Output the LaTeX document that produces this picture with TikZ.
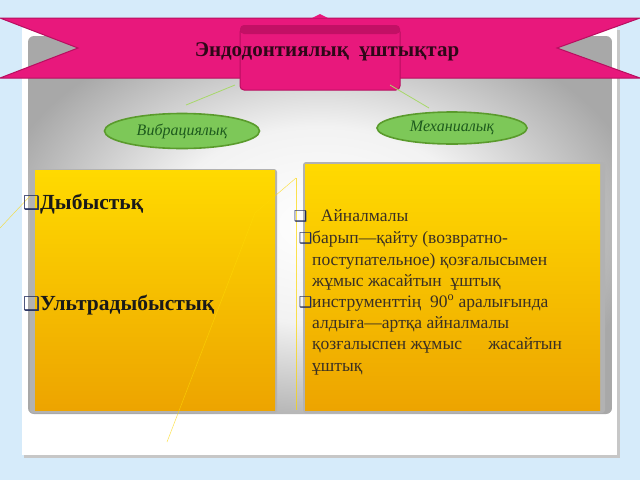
\documentclass[tikz,border=0pt]{standalone}
\usepackage{fontspec}
\setmainfont{Liberation Serif}
\newfontfamily\dejavu{DejaVu Sans}
\usetikzlibrary{shapes.geometric}
\definecolor{bgblue}{HTML}{D6EBFA}
\definecolor{pinkmain}{HTML}{E8187C}
\definecolor{pinkdark}{HTML}{B80E60}
\definecolor{graydk}{HTML}{A8A8A8}
\definecolor{ytop}{HTML}{FFDA00}
\definecolor{ybot}{HTML}{EDA400}
\definecolor{ellfill}{HTML}{7DC858}
\definecolor{elldraw}{HTML}{5A9B2C}
\definecolor{elltext}{HTML}{1D5A1D}
\definecolor{linegreen}{HTML}{A8D86A}
\definecolor{bulcol}{HTML}{1E2A5C}
\definecolor{txtcol}{HTML}{3A3024}
\definecolor{titlecol}{HTML}{2E0818}
\pgfdeclareradialshading{panelshade}{\pgfpoint{0bp}{0bp}}{color(0bp)=(white); color(13bp)=(white!95!black); color(28bp)=(graydk); color(50bp)=(graydk)}
\begin{document}
\begin{tikzpicture}[x=1pt,y=-1pt,
  oval/.style={ellipse, fill=ellfill, draw=elldraw, line width=1.6pt, minimum width=155pt, minimum height=35pt, inner sep=0pt, font=\itshape\fontsize{16}{18}\selectfont, text=elltext},
  conn/.style={draw=linegreen, line width=0.8pt},
  deco/.style={draw=yellow!75!orange, line width=0.5pt, opacity=0.7},
  bigitem/.style={anchor=base west, inner sep=0pt, font=\bfseries\fontsize{21.5}{24}\selectfont, text=black!90},
  smallitem/.style={anchor=north west, inner sep=0pt, align=left, font=\fontsize{17.5}{21.3}\selectfont, text=txtcol}]
\useasboundingbox (0,0) rectangle (640,480);
\fill[bgblue] (0,0) rectangle (640,480);
% white panel with shadow
\fill[black!22] (24,30) rectangle (620,458);
\fill[white] (22,28) rectangle (617,455);
% gray gradient frame
\shade[shading=panelshade, rounded corners=6] (28,36) rectangle (612,414);
% box shadows
\fill[black!30, rounded corners=3] (30,169) rectangle (277,413);
\fill[black!30, rounded corners=3] (303,162) rectangle (605,413);
% yellow boxes
\shade[top color=ytop, bottom color=ybot] (35,170) rectangle (275,410);
\shade[top color=ytop, bottom color=ybot] (305,164) rectangle (600,410);
% faint yellow decorative lines
\coordinate (d1) at (0,228);
\coordinate (d2) at (30,196);
\coordinate (d3) at (167,442);
\coordinate (d4) at (255,213);
\coordinate (d5) at (296,178);
\coordinate (d6) at (296,410);
\draw[deco] (d1) -- (d2);
\draw[deco] (d3) -- (d4) -- (d5);
\draw[deco] (d5) -- (d6);
% ribbon
\fill[pinkmain, draw=pinkdark, line width=1pt] (0,18) -- (640,18) -- (557,48) -- (640,78) -- (0,78) -- (78,48) -- cycle;
\fill[pinkmain] (312,18) -- (320,14) -- (328,18) -- cycle;
% center tab
\fill[pinkmain, draw=pinkdark, line width=1pt, rounded corners=4] (240,28) rectangle (400,90);
\fill[pinkdark!80!pinkmain, rounded corners=4] (240,25) rectangle (400,34);
\node[inner sep=0pt, font=\bfseries\fontsize{21}{24}\selectfont, text=titlecol] (title) at (327,52) {Эндодонтиялық\ \ ұштықтар};
% green connectors
\coordinate (cl1) at (235,85);
\coordinate (cl2) at (186,105);
\coordinate (cr1) at (390,85);
\coordinate (cr2) at (429,108);
\draw[conn] (cl1) -- (cl2);
\draw[conn] (cr1) -- (cr2);
% ellipses
\node[oval] (vib) at (182,131) {Вибрациялық};
\node[oval, minimum width=150pt, minimum height=32pt] (mech) at (452,128) {Механиалық};
% left items
\node[bigitem] (i1) at (40,209) {\llap{\dejavu\bfseries\fontsize{19}{22}\selectfont\color{bulcol}❑}Дыбыстьқ};
\node[bigitem] (i2) at (40,310) {\llap{\dejavu\bfseries\fontsize{19}{22}\selectfont\color{bulcol}❑}Ультрадыбыстық};
% right items
\node[smallitem] (r1) at (312,209) {\llap{\dejavu\fontsize{15}{17}\selectfont\color{bulcol}❑\ }\ \ Айналмалы};
\node[smallitem] (r2) at (312,231) {\llap{\dejavu\fontsize{15}{17}\selectfont\color{bulcol}❑}барып—қайту (возвратно-\\поступательное) қозғалысымен\\жұмыс жасайтын\ \ ұштық};
\node[smallitem] (r3) at (312,295) {\llap{\dejavu\fontsize{15}{17}\selectfont\color{bulcol}❑}инструменттің\ \ 90\textsuperscript{o} аралығында\\алдыға—артқа айналмалы\\қозғалыспен жұмыс\ \ \ \ \ \ жасайтын\\ұштық};
\end{tikzpicture}
\end{document}
